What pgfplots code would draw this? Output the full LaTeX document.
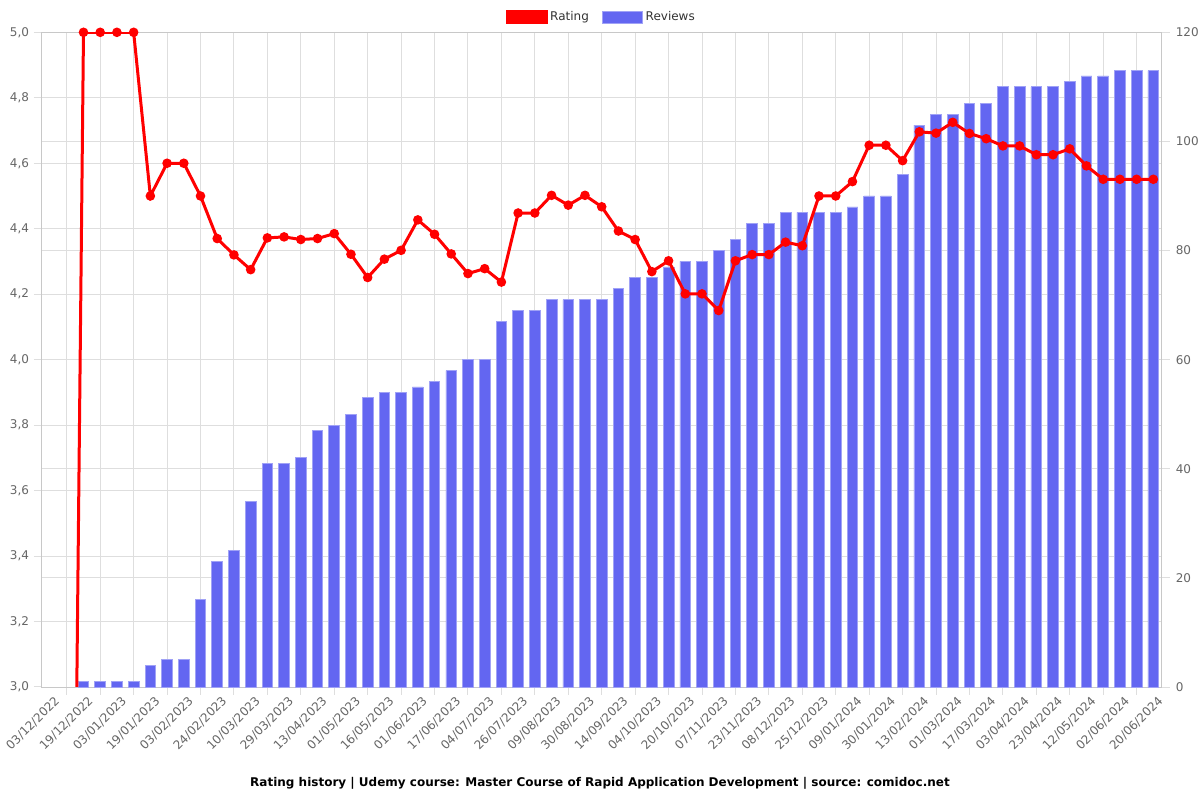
\documentclass[border=0pt]{standalone}
\usepackage{pgfplots}
\pgfplotsset{compat=1.18}
\usepackage{fontspec}
\setmainfont{DejaVu Sans}
\definecolor{barblue}{RGB}{99,102,241}
\definecolor{barborder}{RGB}{160,162,246}
\definecolor{ticktext}{RGB}{102,102,102}
\definecolor{gridc}{RGB}{222,222,222}
\definecolor{axisc}{RGB}{200,200,200}

\pgfplotstableread{
x y
2 1
3 1
4 1
5 1
6 4
7 5
8 5
9 16
10 23
11 25
12 34
13 41
14 41
15 42
16 47
17 48
18 50
19 53
20 54
21 54
22 55
23 56
24 58
25 60
26 60
27 67
28 69
29 69
30 71
31 71
32 71
33 71
34 73
35 75
36 75
37 77
38 78
39 78
40 80
41 82
42 85
43 85
44 87
45 87
46 87
47 87
48 88
49 90
50 90
51 94
52 103
53 105
54 105
55 107
56 107
57 110
58 110
59 110
60 110
61 111
62 112
63 112
64 113
65 113
66 113
}\reviews

\pgfplotstableread{
x y
0 0
1 0
2 5.0
3 5.0
4 5.0
5 5.0
6 4.50
7 4.60
8 4.60
9 4.50
10 4.370
11 4.320
12 4.275
13 4.372
14 4.375
15 4.367
16 4.370
17 4.385
18 4.322
19 4.251
20 4.307
21 4.334
22 4.427
23 4.383
24 4.323
25 4.263
26 4.278
27 4.237
28 4.448
29 4.448
30 4.502
31 4.472
32 4.502
33 4.467
34 4.393
35 4.367
36 4.269
37 4.302
38 4.201
39 4.201
40 4.150
41 4.302
42 4.321
43 4.321
44 4.359
45 4.348
46 4.500
47 4.500
48 4.544
49 4.655
50 4.655
51 4.608
52 4.696
53 4.692
54 4.725
55 4.691
56 4.675
57 4.653
58 4.653
59 4.626
60 4.626
61 4.644
62 4.592
63 4.551
64 4.551
65 4.551
66 4.551
}\rating

\begin{document}
\begin{tikzpicture}[x=0.75pt,y=0.75pt]
\useasboundingbox (0,0) rectangle (1200,800);
% Reviews axis (right), with all grids
\begin{axis}[
  at={(31.275pt,84.75pt)}, anchor=south west,
  scale only axis, width=840pt, height=491pt,
  xmin=-0.5, xmax=66.5, ymin=0, ymax=120,
  axis line style={axisc},
  ytick={0,20,...,120}, ytick pos=right, yticklabel pos=right,
  minor ytick={12,24,36,48,72,84,96,108},
  ymajorgrids, yminorgrids,
  xtick={0,2,...,66},
  xticklabels={03/12/2022,19/12/2022,03/01/2023,19/01/2023,03/02/2023,24/02/2023,10/03/2023,29/03/2023,13/04/2023,01/05/2023,16/05/2023,01/06/2023,17/06/2023,04/07/2023,26/07/2023,09/08/2023,30/08/2023,14/09/2023,04/10/2023,20/10/2023,07/11/2023,23/11/2023,08/12/2023,25/12/2023,09/01/2024,30/01/2024,13/02/2024,01/03/2024,17/03/2024,03/04/2024,23/04/2024,12/05/2024,02/06/2024,20/06/2024},
  xtick pos=bottom,
  minor xtick={1,3,...,65}, xminorgrids,
  tick align=outside,
  major tick length=6pt, minor tick length=6pt,
  major x tick style={draw=none},
  minor y tick style={draw=none},
  tick style={gridc, line width=0.75pt},
  grid style={gridc, line width=0.75pt},
  minor grid style={gridc, line width=0.75pt},
  ticklabel style={font=\fontsize{9}{10}\selectfont, text=ticktext},
  /pgf/number format/assume math mode=true,
  xticklabel style={rotate=45, anchor=north east, inner sep=1pt, xshift=3pt, yshift=-1pt},
  yticklabel style={xshift=1pt},
]
\addplot[ybar, bar width=0.64, fill=barblue, draw=barborder, line width=0.6pt] table[x=x,y=y] {\reviews};
\end{axis}
% Rating axis (left)
\begin{axis}[
  at={(31.275pt,84.75pt)}, anchor=south west,
  scale only axis, width=840pt, height=491pt,
  xmin=-0.5, xmax=66.5, ymin=3, ymax=5,
  hide x axis,
  axis y line*=left,
  axis line style={axisc},
  ytick={3,3.2,3.4,3.6,3.8,4,4.2,4.4,4.6,4.8,5},
  yticklabel style={/pgf/number format/.cd, fixed, fixed zerofill, precision=1, use comma},
  tick align=outside, major tick length=6pt,
  tick style={gridc, line width=0.75pt},
  ticklabel style={font=\fontsize{9}{10}\selectfont, text=ticktext},
  /pgf/number format/assume math mode=true,
  legend style={at={(0.5,1)}, anchor=south, yshift=3pt, draw=none, fill=none,
    legend columns=2, font=\fontsize{9}{10}\selectfont, text=black!80,
    /tikz/every even column/.append style={column sep=8pt}},
  legend cell align=left,
]
\addplot[red, line width=2.25pt, mark=*, mark size=2.4pt, mark options={solid, fill=red},
  legend image code/.code={\draw[fill=red, draw=red, line width=1.2pt] (0pt,-4.8pt) rectangle (30pt,4.8pt);}] table[x=x,y=y] {\rating};
\addlegendentry{Rating}
\addlegendimage{legend image code/.code={\draw[fill=barblue, draw=barborder, line width=0.6pt] (0pt,-4.5pt) rectangle (30pt,4.5pt);}}
\addlegendentry{Reviews}
\end{axis}
\node[font=\bfseries\fontsize{9}{10}\selectfont] at (600,17) {Rating history | Udemy course: Master Course of Rapid Application Development | source: comidoc.net};
\end{tikzpicture}
\end{document}
